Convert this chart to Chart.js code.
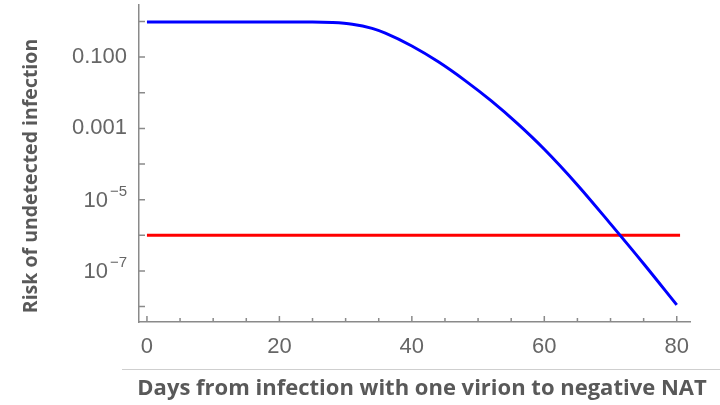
<!DOCTYPE html>
<html>
<head>
<meta charset="utf-8">
<script src="https://cdn.jsdelivr.net/npm/chart.js@4.4.1/dist/chart.umd.min.js"></script>
<style>
html, body { margin:0; padding:0; background:#fff; }
#wrap { width:720px; height:405px; }
</style>
</head>
<body>
<div id="wrap"><canvas id="myChart" width="720" height="405"></canvas></div>
<script>
// data
const days = [0, 5, 10, 15, 20, 25, 28, 31, 34, 36, 40, 44, 48, 52, 56, 60, 65, 70, 75, 80]
const risk = [0.96, 0.96, 0.96, 0.96, 0.96, 0.96, 0.933, 0.838, 0.64, 0.47, 0.205, 0.0738, 0.0223, 0.0059, 0.00134, 2.6e-4, 2.6e-5, 2.1e-6, 1.6e-7, 1.12e-8]

// threshold line (red)
const threshDays = [0, 80.5]
const threshRisk = [1e-6, 1e-6]

// ticks
const xTickVals = [0, 5, 10, 15, 20, 25, 30, 35, 40, 45, 50, 55, 60, 65, 70, 75, 80]
const xTickLabels = {0: '0', 20: '20', 40: '40', 60: '60', 80: '80'}
const yTickVals = [1, 0.1, 0.01, 0.001, 1e-4, 1e-5, 1e-6, 1e-7, 1e-8]
const yTickLabels = ['', '0.100', '', '0.001', '', '10^-5', '', '10^-7', '']

const xTitle = 'Days from infection with one virion to negative NAT'
const yTitle = 'Risk of undetected infection'

const axisColor = '#8a8a8a'
const labelColor = '#666666'
const titleColor = '#595959'

// inward tick marks, y labels with exponents, axis titles, separator line
const tickPlugin = {
    id: 'inwardTicks',
    afterDraw(chart){
        const ctx = chart.ctx
        const area = chart.chartArea
        const xs = chart.scales.x
        const ys = chart.scales.y
        ctx.save()
        ctx.strokeStyle = axisColor
        ctx.lineWidth = 1.5
        ctx.beginPath()
        xTickVals.forEach(function(v){
            const px = xs.getPixelForValue(v)
            const len = (v % 20 === 0) ? 6 : 4
            ctx.moveTo(px, area.bottom)
            ctx.lineTo(px, area.bottom - len)
        })
        yTickVals.forEach(function(v){
            const py = ys.getPixelForValue(v)
            ctx.moveTo(area.left, py)
            ctx.lineTo(area.left + 6, py)
        })
        ctx.stroke()

        // y labels
        const right = area.left - 12
        ctx.fillStyle = labelColor
        ctx.textBaseline = 'middle'
        ctx.textAlign = 'left'
        yTickVals.forEach(function(v, i){
            const lab = yTickLabels[i]
            if(!lab) return
            const py = ys.getPixelForValue(v)
            if(lab.indexOf('^') >= 0){
                const parts = lab.split('^')
                const expo = parts[1].replace('-', '\u2212')
                ctx.font = '22px "Liberation Sans"'
                const wb = ctx.measureText(parts[0]).width
                ctx.font = '15px "Liberation Sans"'
                const we = ctx.measureText(expo).width
                const x0 = right - wb - 2 - we
                ctx.font = '22px "Liberation Sans"'
                ctx.fillText(parts[0], x0, py + 1)
                ctx.font = '15px "Liberation Sans"'
                ctx.fillText(expo, x0 + wb + 2, py - 8)
            } else {
                ctx.font = '22px "Liberation Sans"'
                ctx.fillText(lab, right - ctx.measureText(lab).width, py)
            }
        })

        // titles
        ctx.fillStyle = titleColor
        ctx.textAlign = 'center'
        ctx.font = 'bold 22px "Open Sans"'
        ctx.fillText(xTitle, 422, 389)
        ctx.save()
        ctx.translate(31, 176)
        ctx.rotate(-Math.PI / 2)
        ctx.font = 'bold 19.5px "Open Sans"'
        ctx.fillText(yTitle, 0, 0)
        ctx.restore()

        ctx.strokeStyle = '#cfcfcf'
        ctx.lineWidth = 1
        ctx.beginPath()
        ctx.moveTo(122, 369.5)
        ctx.lineTo(720, 369.5)
        ctx.stroke()
        ctx.restore()
    }
}

const data = {
    datasets: [{
        label: 'Risk',
        data: days.map(function(d, i){ return {x: d, y: risk[i]} }),
        borderColor: '#0000ff',
        borderWidth: 3,
        pointRadius: 0,
        cubicInterpolationMode: 'monotone',
        fill: false
    }, {
        label: 'Threshold',
        data: threshDays.map(function(d, i){ return {x: d, y: threshRisk[i]} }),
        borderColor: '#ff0000',
        borderWidth: 3,
        pointRadius: 0,
        fill: false
    }]
}

const config = {
    type: 'line',
    data,
    options: {
        responsive: false,
        animation: false,
        layout: { padding: { top: 5, right: 30, left: 0, bottom: 0 } },
        plugins: { legend: { display: false }, tooltip: { enabled: false } },
        scales: {
            x: {
                type: 'linear',
                min: -1.2,
                max: 82,
                afterBuildTicks: function(s){ s.ticks = xTickVals.map(function(v){ return {value: v} }) },
                afterFit: function(s){ s.height = 83 },
                grid: { display: false, drawTicks: false },
                border: { display: true, color: axisColor, width: 1.5 },
                ticks: {
                    autoSkip: false,
                    maxRotation: 0,
                    padding: 12,
                    color: labelColor,
                    font: { family: 'Liberation Sans', size: 22 },
                    callback: function(v){ return xTickLabels[v] !== undefined ? xTickLabels[v] : '' }
                },
                title: { display: false }
            },
            y: {
                type: 'logarithmic',
                min: 3.7e-9,
                max: 2.9,
                afterBuildTicks: function(s){ s.ticks = yTickVals.map(function(v){ return {value: v} }) },
                afterFit: function(s){
                    s.width = 139
                    s.paddingTop = 0
                    s.paddingBottom = 0
                },
                grid: { display: false, drawTicks: false },
                border: { display: true, color: axisColor, width: 1.5 },
                ticks: { display: false },
                title: { display: false }
            }
        }
    },
    plugins: [tickPlugin]
}

let myChart = new Chart(document.getElementById('myChart'), config)
</script>
</body>
</html>
